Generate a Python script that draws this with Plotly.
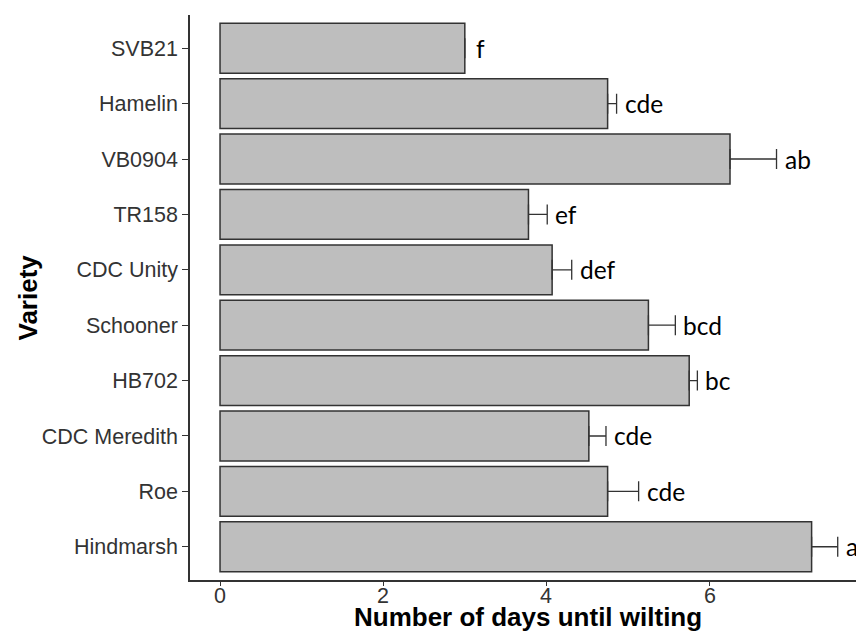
import plotly.graph_objects as go

# Varieties listed bottom-to-top as they appear on the axis
varieties = ["Hindmarsh", "Roe", "CDC Meredith", "HB702", "Schooner",
             "CDC Unity", "TR158", "VB0904", "Hamelin", "SVB21"]
mean_days = [7.25, 4.75, 4.52, 5.75, 5.25, 4.07, 3.78, 6.25, 4.75, 3.00]
se_days = [0.32, 0.38, 0.21, 0.10, 0.33, 0.24, 0.23, 0.57, 0.11, 0.00]
letters = ["a", "cde", "cde", "bc", "bcd", "def", "ef", "ab", "cde", "f"]
x_ticks = [0, 2, 4, 6]

axis_col = "#333333"
tick_font = dict(family="Liberation Sans, Arial, sans-serif", size=21.5, color="#333333")
title_font = dict(family="Liberation Sans, Arial, sans-serif", size=26, color="black")
letter_font = dict(family="Lato, Carlito, sans-serif", size=24.5, color="black")

fig = go.Figure()
fig.add_trace(go.Bar(
    y=varieties, x=mean_days, orientation="h", width=0.9,
    marker=dict(color="#BEBEBE", line=dict(color=axis_col, width=1.5)),
    error_x=dict(type="data", symmetric=False, array=se_days,
                 arrayminus=[0] * len(se_days), color=axis_col,
                 thickness=1.3, width=10),
    showlegend=False, hoverinfo="skip",
))

# significance letters just past the top of each error bar
for v, m, s, lab in zip(varieties, mean_days, se_days, letters):
    fig.add_annotation(x=m + s, y=v, text=lab, showarrow=False,
                       xanchor="left", yanchor="middle",
                       xshift=6 if s > 0 else 9, font=letter_font)

# x tick labels, set close under the axis line
for t in x_ticks:
    fig.add_annotation(x=t, xref="x", yref="paper", y=0, text=str(t),
                       showarrow=False, xanchor="center", yanchor="top",
                       yshift=-2, font=tick_font)

# axis titles
fig.add_annotation(xref="paper", yref="paper", x=0.5075, y=0,
                   text="<b>Number of days until wilting</b>", showarrow=False,
                   xanchor="center", yanchor="top", yshift=-20, font=title_font)
fig.add_annotation(xref="paper", yref="paper", x=0, y=0.5,
                   text="<b>Variety</b>", showarrow=False, textangle=-90,
                   xanchor="center", yanchor="middle", xshift=-163, font=title_font)

fig.update_layout(
    width=856, height=632,
    margin=dict(l=190, r=0, t=15, b=52),
    paper_bgcolor="white", plot_bgcolor="white",
    xaxis=dict(range=[-0.368, 7.794], tickvals=x_ticks, showticklabels=False,
               showgrid=False, zeroline=False, showline=True,
               linecolor=axis_col, linewidth=1.5,
               ticks="outside", ticklen=4, tickwidth=1.3, tickcolor=axis_col),
    yaxis=dict(range=[-0.6, 9.6], type="category", categoryorder="array",
               categoryarray=varieties, showgrid=False, zeroline=False,
               showline=True, linecolor=axis_col, linewidth=1.5,
               ticks="outside", ticklen=6, tickwidth=1.3, tickcolor=axis_col,
               tickfont=tick_font),
)

fig.write_html("out.html")
